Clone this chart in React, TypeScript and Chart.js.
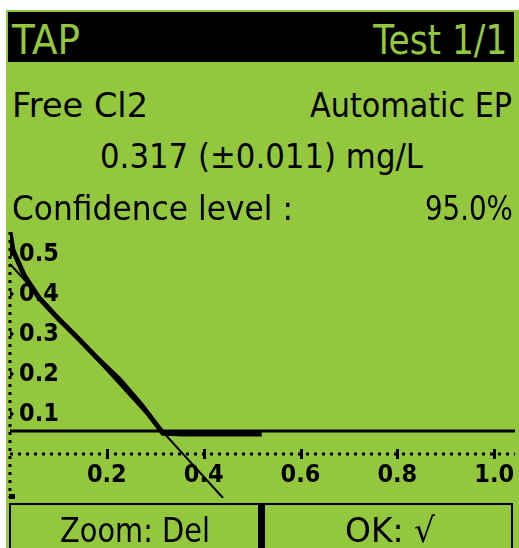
import React, { useEffect, useLayoutEffect, useRef } from 'react';
import { Chart, registerables } from 'chart.js';

Chart.register(...registerables);

const LCD_GREEN = '#93c83e';
const INK = '#000000';

// Titration data (mg/L vs. signal)
const dataX = [0.0, 0.006, 0.03, 0.06, 0.10, 0.14, 0.18, 0.227, 0.27, 0.316, 0.36, 0.42, 0.52];
const dataY = [0.555, 0.51, 0.445, 0.39, 0.338, 0.29, 0.24, 0.185, 0.125, 0.052, 0.05, 0.05, 0.05];
// Baseline after end point
const baselineX = [0, 1.043];
const baselineY = [0.0575, 0.0575];
// Regression line through the descending part
const fitX = [0, 0.44];
const fitY = [0.475, -0.11];
// Axes
const xTicks = [0.2, 0.4, 0.6, 0.8, 1.0];
const yTicks = [0.1, 0.2, 0.3, 0.4, 0.5];
const xRange = [0, 1.043];
const yRange = [-0.11, 0.555];

const TICK_FONT = { family: '"DejaVu Sans Condensed", "DejaVu Sans", sans-serif', size: 25, weight: 'bold' as const };

const CANVAS_TOP = 226;
const CANVAS_H = 300;

// Dotted LCD axes (drawn at the scales' zero values) and tick markers
const lcdAxes = {
  id: 'lcdAxes',
  beforeDatasetsDraw(chart: any) {
    const { ctx, scales, chartArea } = chart;
    const x = scales.x;
    const y = scales.y;
    const y0 = Math.round(y.getPixelForValue(0));
    const x0 = Math.round(x.getPixelForValue(0));
    ctx.save();
    ctx.strokeStyle = INK;
    ctx.lineWidth = 3;
    ctx.setLineDash([3, 5]);
    ctx.beginPath();
    ctx.moveTo(chartArea.left, y0);
    ctx.lineTo(chartArea.right, y0);
    ctx.stroke();
    ctx.beginPath();
    ctx.moveTo(x0, chartArea.top);
    ctx.lineTo(x0, chartArea.bottom);
    ctx.stroke();
    ctx.setLineDash([]);
    ctx.fillStyle = INK;
    ctx.fillRect(x0 - 1, chartArea.bottom - 4, 6, 5);
    xTicks.forEach((v) => {
      const px = Math.round(x.getPixelForValue(v));
      ctx.fillRect(px - 1, y0 - 5, 3, 10);
    });
    yTicks.forEach((v) => {
      const py = y.getPixelForValue(v);
      ctx.beginPath();
      ctx.moveTo(x0, py - 4);
      ctx.lineTo(x0 + 4, py);
      ctx.lineTo(x0, py + 4);
      ctx.closePath();
      ctx.fill();
    });
    ctx.restore();
  },
};

function toPoints(xs: number[], ys: number[]) {
  return xs.map((v, i) => ({ x: v, y: ys[i] }));
}

function FitText(props: {
  text: string;
  capTop: number;
  capHeight: number;
  left?: number;
  right?: number;
  width: number;
  color: string;
}) {
  const { text, capTop, capHeight, left, right, width, color } = props;
  const ref = useRef<HTMLSpanElement>(null);
  const size = capHeight / 0.729;
  useLayoutEffect(() => {
    const el = ref.current;
    if (!el) return;
    el.style.transform = 'none';
    const w = el.getBoundingClientRect().width;
    if (w > 0) el.style.transform = `scaleX(${width / w})`;
  }, [text, width]);
  const style: any = {
    position: 'absolute',
    top: capTop - 0.117 * size,
    fontFamily: '"DejaVu Sans", sans-serif',
    fontSize: size,
    lineHeight: `${size}px`,
    whiteSpace: 'pre',
    color,
    zIndex: 3,
    transformOrigin: right !== undefined ? 'right top' : 'left top',
  };
  if (right !== undefined) style.right = 519 - right;
  else style.left = left;
  return (
    <span ref={ref} style={style}>
      {text}
    </span>
  );
}

function Plot() {
  const canvasRef = useRef<HTMLCanvasElement>(null);
  useEffect(() => {
    const canvas = canvasRef.current;
    if (!canvas) return;
    const chart = new Chart(canvas, {
      type: 'scatter',
      data: {
        datasets: [
          {
            data: toPoints(baselineX, baselineY),
            showLine: true,
            borderColor: INK,
            borderWidth: 3,
            pointRadius: 0,
          },
          {
            data: toPoints(fitX, fitY),
            showLine: true,
            borderColor: INK,
            borderWidth: 2,
            pointRadius: 0,
          },
          {
            data: toPoints(dataX, dataY),
            showLine: true,
            borderColor: INK,
            borderWidth: 5,
            pointRadius: 0,
          },
        ],
      },
      options: {
        responsive: false,
        animation: false,
        events: [],
        layout: { padding: { left: 10, top: 6, right: 4, bottom: CANVAS_H - 272 } },
        plugins: { legend: { display: false }, tooltip: { enabled: false } },
        scales: {
          x: {
            type: 'linear',
            min: xRange[0],
            max: xRange[1],
            position: { y: 0 } as any,
            grid: { display: false, drawOnChartArea: false, drawTicks: false },
            border: { display: false },
            afterBuildTicks: (s: any) => {
              s.ticks = xTicks.map((v) => ({ value: v }));
            },
            afterFit: (s: any) => {
              s.height = 0;
              s.paddingLeft = 0;
              s.paddingRight = 0;
              s.paddingTop = 0;
              s.paddingBottom = 0;
            },
            ticks: {
              color: INK,
              font: TICK_FONT,
              padding: 6,
              autoSkip: false,
              maxRotation: 0,
              callback: (v: any) => Number(v).toFixed(1),
            },
          },
          y: {
            type: 'linear',
            min: yRange[0],
            max: yRange[1],
            position: 'left',
            grid: { display: false, drawOnChartArea: false, drawTicks: false },
            border: { display: false },
            afterBuildTicks: (s: any) => {
              s.ticks = yTicks.map((v) => ({ value: v }));
            },
            afterFit: (s: any) => {
              s.width = 0;
              s.paddingLeft = 0;
              s.paddingRight = 0;
              s.paddingTop = 0;
              s.paddingBottom = 0;
            },
            ticks: {
              color: INK,
              font: TICK_FONT,
              mirror: true,
              padding: 9,
              autoSkip: false,
              callback: (v: any) => Number(v).toFixed(1),
            },
          },
        },
      },
      plugins: [lcdAxes],
    });
    return () => chart.destroy();
  }, []);
  return (
    <canvas
      ref={canvasRef}
      width={519}
      height={CANVAS_H}
      style={{ position: 'absolute', left: 0, top: CANVAS_TOP, width: 519, height: CANVAS_H, zIndex: 1 }}
    />
  );
}

export default function App() {
  return (
    <div
      style={{
        position: 'fixed',
        left: 0,
        top: 0,
        width: 519,
        height: 548,
        background: '#ffffff',
        overflow: 'hidden',
      }}
    >
      <div style={{ position: 'absolute', left: 6, top: 10, width: 513, height: 538, background: LCD_GREEN }} />
      <div style={{ position: 'absolute', left: 8, top: 12, width: 506, height: 50, background: INK }} />
      <FitText text="TAP" capTop={25} capHeight={30} left={12} width={68} color={LCD_GREEN} />
      <FitText text="Test 1/1" capTop={25} capHeight={30} right={507} width={134} color={LCD_GREEN} />
      <FitText text="Free Cl2" capTop={92} capHeight={25} left={12} width={136} color={INK} />
      <FitText text="Automatic EP" capTop={92} capHeight={25} right={512} width={202} color={INK} />
      <FitText text="0.317 (±0.011) mg/L" capTop={143} capHeight={25} left={100} width={323} color={INK} />
      <FitText text="Confidence level :" capTop={195} capHeight={25} left={12} width={281} color={INK} />
      <FitText text="95.0%" capTop={195} capHeight={25} right={513} width={88} color={INK} />
      <Plot />
      <div
        style={{
          position: 'absolute',
          left: 9,
          top: 503,
          width: 252,
          height: 60,
          boxSizing: 'border-box',
          border: `2px solid ${INK}`,
          borderRightWidth: 3,
          zIndex: 2,
        }}
      />
      <div
        style={{
          position: 'absolute',
          left: 261,
          top: 503,
          width: 252,
          height: 60,
          boxSizing: 'border-box',
          border: `2px solid ${INK}`,
          borderLeftWidth: 4,
          zIndex: 2,
        }}
      />
      <FitText text="Zoom: Del" capTop={517} capHeight={25} left={60} width={150} color={INK} />
      <FitText text="OK: √" capTop={517} capHeight={25} left={345} width={90} color={INK} />
    </div>
  );
}
